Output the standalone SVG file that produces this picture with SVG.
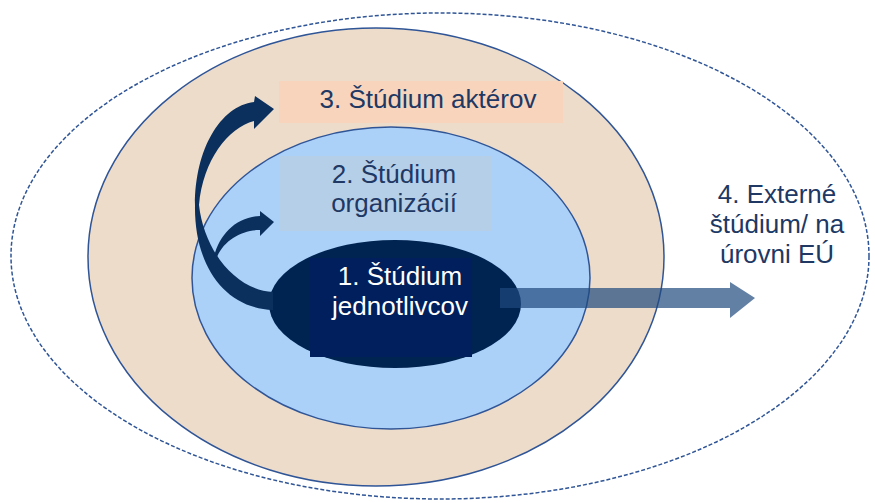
<svg xmlns="http://www.w3.org/2000/svg" width="875" height="503" viewBox="0 0 875 503">
<style>
  .ring { stroke: #2f5597; stroke-width: 1.5; }
  .lbl { font-family: "Liberation Sans", Arial, sans-serif; font-size: 26px; fill: #203864; text-anchor: middle; }
  .lblw { font-family: "Liberation Sans", Arial, sans-serif; font-size: 26px; fill: #ffffff; text-anchor: middle; }
  .arr { fill: #0b305e; }
</style>
<rect width="875" height="503" fill="#ffffff"/>
<g id="node4">
  <ellipse cx="440" cy="256" rx="429" ry="243" fill="none" class="ring" stroke-dasharray="4 2"/>
  <text class="lbl" x="777" y="203">4. Externé</text>
  <text class="lbl" x="777" y="233">štúdium/ na</text>
  <text class="lbl" x="777" y="263">úrovni EÚ</text>
</g>
<g id="node3">
  <ellipse cx="376" cy="257" rx="288" ry="229" fill="#eddcca" class="ring"/>
  <rect x="279" y="81" width="284" height="42" fill="#f8d4bc"/>
  <text class="lbl" x="428" y="108">3. Štúdium aktérov</text>
</g>
<g id="node2">
  <ellipse cx="391" cy="278" rx="199" ry="151" fill="#acd1f8" class="ring"/>
  <rect x="279" y="156" width="213" height="75" fill="#b6cfe8"/>
  <text class="lbl" x="394" y="183">2. Štúdium</text>
  <text class="lbl" x="394" y="212">organizácií</text>
</g>
<g id="node1">
  <ellipse cx="395" cy="304" rx="126" ry="64" fill="#002451"/>
  <rect x="310" y="258" width="162" height="99" fill="#001f5c"/>
  <text class="lblw" x="400" y="285">1. Štúdium</text>
  <text class="lblw" x="400" y="315">jednotlivcov</text>
</g>
<g id="connectors">
  <path class="arr" d="M274,109 L254,129 L254,121 C228,128 203,160 199,205 C204,250 235,290 273,292 L273,310 C222,308 194,262 195,205 C195,150 220,106 254,102 L255,96 Z"/>
  <path class="arr" d="M274,222 L260,236 L260,230 C242,230 224,240 217,257 L214,257 C219,235 236,217 260,216 L260,211 Z"/>
  <path d="M500,288 L730,288 L730,282 L755,298 L730,318 L730,308 L500,308 Z" fill="#1f497d" fill-opacity="0.7"/>
</g>
</svg>
